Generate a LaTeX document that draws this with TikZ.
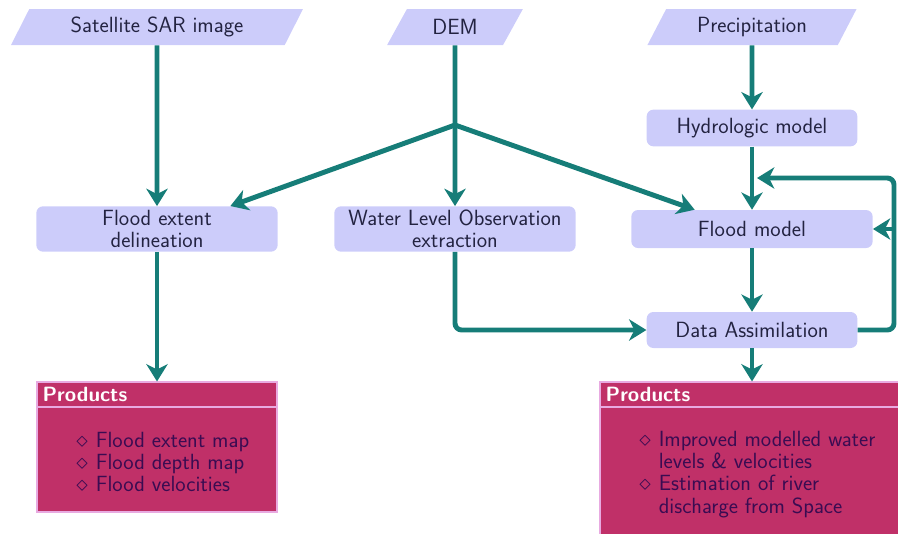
\documentclass[tikz,border=0pt]{standalone}
\usetikzlibrary{shapes.geometric,arrows.meta,calc}
\definecolor{boxfill}{RGB}{204,204,250}
\definecolor{boxtext}{RGB}{35,35,65}
\definecolor{arrowc}{RGB}{22,125,120}
\definecolor{prodfill}{RGB}{192,48,104}
\definecolor{prodtext}{RGB}{58,12,82}
\definecolor{prodline}{RGB}{232,170,225}
\begin{document}
\begin{tikzpicture}[x=0.75pt,y=-0.75pt,
  font=\sffamily\fontsize{16.5}{16.5}\selectfont,
  iobox/.style={trapezium, trapezium left angle=58.5, trapezium right angle=121.5,
    trapezium stretches=true, fill=boxfill, draw=none, inner sep=0pt,
    minimum height=27pt, text=boxtext},
  procbox/.style={rectangle, rounded corners=5pt, fill=boxfill, draw=none,
    inner sep=0pt, align=center, text=boxtext},
  prodbox/.style={rectangle, fill=prodfill, draw=prodline, line width=0.8pt, inner sep=0pt},
  prodhead/.style={anchor=west, text=white, font=\sffamily\bfseries\fontsize{15.5}{16}\selectfont},
  prodbody/.style={anchor=west, text=prodtext, inner sep=0pt},
  flow/.style={draw=arrowc, line width=3.7pt, rounded corners=5pt,
    -{Stealth[length=13pt,width=16pt,inset=4pt]}}
]
\useasboundingbox (0,0) rectangle (898,533);
\clip (0,0) rectangle (898,533);

% inputs
\node[iobox, minimum width=219pt] (sar) at (157,27) {Satellite SAR image};
\node[iobox, minimum width=102pt] (dem) at (455,27) {DEM};
\node[iobox, minimum width=158pt] (pre) at (752,27) {Precipitation};

% processes
\node[procbox, minimum width=158pt, minimum height=27.5pt] (hm) at (752,128) {Hydrologic model};
\node[procbox, minimum width=181pt, minimum height=34pt] (fed) at (157,229) {Flood extent\\delineation};
\node[procbox, minimum width=181pt, minimum height=34pt] (wlo) at (455,229) {Water Level Observation\\extraction};
\node[procbox, minimum width=181pt, minimum height=28.5pt] (fm) at (752,229) {Flood model};
\node[procbox, minimum width=158pt, minimum height=27pt] (da) at (752,330) {Data Assimilation};

% products boxes
\node[prodbox, minimum width=180pt, minimum height=97.5pt] (pl) at (157,447) {};
\node[prodbox, minimum width=228pt, minimum height=117pt] (pr) at (752,460) {};
\draw[prodline, line width=1pt] (pl.west |- 0,407) -- (pl.east |- 0,407);
\draw[prodline, line width=1pt] (pr.west |- 0,407) -- (pr.east |- 0,407);
\node[prodhead] (plh) at (38,394) {Products};
\node[prodhead] (prh) at (601,394) {Products};
\node[prodbody] (plb) at (76,465) {\begin{tabular}{@{}l@{\hspace{6pt}}l@{}}
  $\diamond$ & Flood extent map\\
  $\diamond$ & Flood depth map\\
  $\diamond$ & Flood velocities
\end{tabular}};
\node[prodbody] (prb) at (639,475.5) {\begin{tabular}{@{}l@{\hspace{6pt}}l@{}}
  $\diamond$ & Improved modelled water\\
   & levels \& velocities\\
  $\diamond$ & Estimation of river\\
   & discharge from Space
\end{tabular}};

% connectors
\coordinate (j) at (455,125);
\coordinate (r1) at (894,330);
\coordinate (r2) at (894,178);
\coordinate (loopin) at (757,178);

\draw[flow] (sar) -- (fed);
\draw[flow] (dem) -- (wlo);
\draw[flow] (j) -- ([xshift=55pt]fed.north);
\draw[flow] (j) -- ([xshift=-43pt]fm.north);
\draw[flow] (pre) -- (hm);
\draw[flow] (hm) -- (fm);
\draw[flow] (fm) -- (da);
\draw[flow] (wlo.south) |- (da.west);
\draw[flow] (da.east) -- (r1) -- (r2) -- (loopin);
\draw[flow] (r2 |- fm.east) -- (fm.east);
\draw[flow] (da) -- (pr.north);
\draw[flow] (fed) -- (pl.north);
\end{tikzpicture}
\end{document}
